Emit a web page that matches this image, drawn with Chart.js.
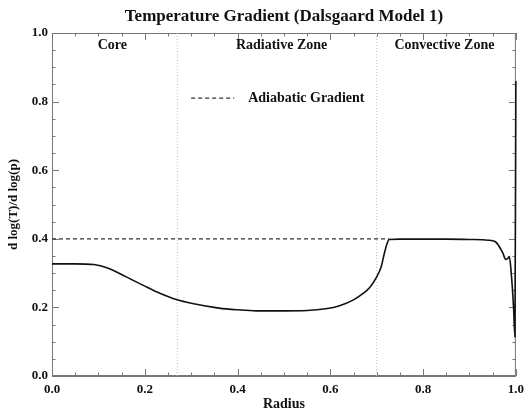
<!DOCTYPE html>
<html>
<head>
<meta charset="utf-8">
<script src="https://cdn.jsdelivr.net/npm/chart.js@4.4.0/dist/chart.umd.min.js"></script>
<style>
html,body{margin:0;padding:0;background:#fff;}
#wrap{width:530px;height:410px;}
</style>
</head>
<body>
<div id="wrap"><canvas id="c" width="530" height="410"></canvas></div>
<script>
// ---- data ----
const radius = [0, 0.05, 0.09, 0.12, 0.16, 0.20, 0.23, 0.27, 0.30, 0.36, 0.40, 0.44, 0.50, 0.55, 0.59, 0.62, 0.65, 0.67, 0.685, 0.70, 0.71, 0.716, 0.722, 0.727, 0.75, 0.80, 0.85, 0.90, 0.94, 0.955, 0.962, 0.972, 0.978, 0.982, 0.986, 0.99, 0.995, 0.998, 1.0];
const gradient = [0.327, 0.327, 0.325, 0.315, 0.289, 0.262, 0.243, 0.222, 0.212, 0.198, 0.193, 0.190, 0.190, 0.191, 0.196, 0.205, 0.222, 0.240, 0.258, 0.289, 0.320, 0.355, 0.385, 0.398, 0.399, 0.399, 0.399, 0.398, 0.396, 0.392, 0.382, 0.358, 0.340, 0.342, 0.348, 0.300, 0.200, 0.114, 0.860];
const adiabaticX = [0, 0.727];
const adiabaticY = [0.4, 0.4];
const zoneBounds = [0.27, 0.70];
const zoneNames = ["Core", "Radiative Zone", "Convective Zone"];
const zoneLabelX = [0.13, 0.495, 0.846];
const zoneLabelY = 0.965;
const xTicks = [0, 0.2, 0.4, 0.6, 0.8, 1.0];
const yTicks = [0, 0.2, 0.4, 0.6, 0.8, 1.0];
const legendLabel = "Adiabatic Gradient";
const titleText = "Temperature Gradient (Dalsgaard Model 1)";
const xTitle = "Radius";
const yTitle = "d log(T)/d log(p)";

const SERIF = "'Liberation Serif', 'DejaVu Serif', serif";
const AXIS = '#777';

const curve = radius.map((r, i) => ({x: r, y: gradient[i]}));
const adiab = adiabaticX.map((r, i) => ({x: r, y: adiabaticY[i]}));
const bounds = zoneBounds.map(b => [{x: b, y: 0}, {x: b, y: 1}]);

const decor = {
  id: 'decor',
  beforeDatasetsDraw(chart) {
    const ctx = chart.ctx, a = chart.chartArea;
    const xs = chart.scales.x, ys = chart.scales.y;
    ctx.save();
    ctx.strokeStyle = AXIS; ctx.lineWidth = 1;
    ctx.strokeRect(a.left + 0.5, a.top + 0.5, a.right - a.left - 1, a.bottom - a.top - 1);
    ctx.beginPath();
    for (let k = 0; k <= 20; k++) {
      const v = k * 0.05;
      const major = (k % 4 === 0);
      const len = major ? 7 : 3.5;
      const px = Math.round(xs.getPixelForValue(v)) + 0.5;
      ctx.moveTo(px, a.bottom); ctx.lineTo(px, a.bottom - len);
      ctx.moveTo(px, a.top); ctx.lineTo(px, a.top + len);
      const py = Math.round(ys.getPixelForValue(v)) + 0.5;
      ctx.moveTo(a.left, py); ctx.lineTo(a.left + len, py);
      ctx.moveTo(a.right, py); ctx.lineTo(a.right - len, py);
    }
    ctx.stroke();
    ctx.restore();
  },
  afterDatasetsDraw(chart) {
    const ctx = chart.ctx;
    const xs = chart.scales.x, ys = chart.scales.y;
    ctx.save();
    ctx.fillStyle = '#111';
    ctx.font = "bold 14px " + SERIF;
    ctx.textAlign = 'center'; ctx.textBaseline = 'middle';
    zoneNames.forEach((n, i) => {
      ctx.fillText(n, xs.getPixelForValue(zoneLabelX[i]), ys.getPixelForValue(zoneLabelY));
    });
    const ds = chart.data.datasets[1];
    const lx = xs.getPixelForValue(0.3), ly = ys.getPixelForValue(0.81);
    ctx.strokeStyle = ds.borderColor; ctx.lineWidth = ds.borderWidth;
    ctx.setLineDash(ds.borderDash);
    ctx.beginPath(); ctx.moveTo(lx, ly); ctx.lineTo(lx + 43, ly); ctx.stroke();
    ctx.setLineDash([]);
    ctx.textAlign = 'left';
    ctx.fillText(legendLabel, lx + 57, ly);
    ctx.restore();
  }
};

new Chart(document.getElementById('c'), {
  type: 'line',
  data: {
    datasets: [
      {data: curve, borderColor: '#111', borderWidth: 1.6, pointRadius: 0, cubicInterpolationMode: 'monotone', fill: false, clip: 3},
      {data: adiab, borderColor: '#333', borderWidth: 1.3, borderDash: [4, 3], pointRadius: 0, fill: false},
      {data: bounds[0], borderColor: '#bbb', borderWidth: 1, borderDash: [1, 2], pointRadius: 0, fill: false},
      {data: bounds[1], borderColor: '#bbb', borderWidth: 1, borderDash: [1, 2], pointRadius: 0, fill: false}
    ]
  },
  options: {
    responsive: false,
    animation: false,
    events: [],
    layout: {padding: {left: 0, right: 9, top: 0, bottom: 0}},
    plugins: {
      legend: {display: false},
      tooltip: {enabled: false},
      title: {
        display: true, text: titleText, fullSize: false,
        color: '#111', font: {family: SERIF, size: 17, weight: 'bold', lineHeight: 1.2},
        padding: {top: 6, bottom: 6.6}
      }
    },
    scales: {
      x: {
        type: 'linear', min: 0, max: 1,
        afterFit(s) { s.height = 34; },
        afterBuildTicks(s) { s.ticks = xTicks.map(v => ({value: v})); },
        grid: {display: false, drawTicks: false},
        border: {display: true, color: AXIS},
        ticks: {color: '#111', padding: 6, maxRotation: 0, font: {family: SERIF, size: 13, weight: 'bold'}, callback: v => v.toFixed(1)},
        title: {display: true, text: xTitle, color: '#111', padding: {top: 0, bottom: -3}, font: {family: SERIF, size: 14, weight: 'bold'}}
      },
      y: {
        type: 'linear', min: 0, max: 1,
        afterFit(s) { s.width = 52; },
        afterBuildTicks(s) { s.ticks = yTicks.map(v => ({value: v})); },
        grid: {display: false, drawTicks: false},
        border: {display: true, color: AXIS},
        ticks: {color: '#111', padding: 4, font: {family: SERIF, size: 13, weight: 'bold'}, callback: v => v.toFixed(1)},
        title: {display: true, text: yTitle, color: '#111', padding: {top: 6, bottom: 0}, font: {family: SERIF, size: 13, weight: 'bold'}}
      }
    }
  },
  plugins: [decor]
});
</script>
</body>
</html>
